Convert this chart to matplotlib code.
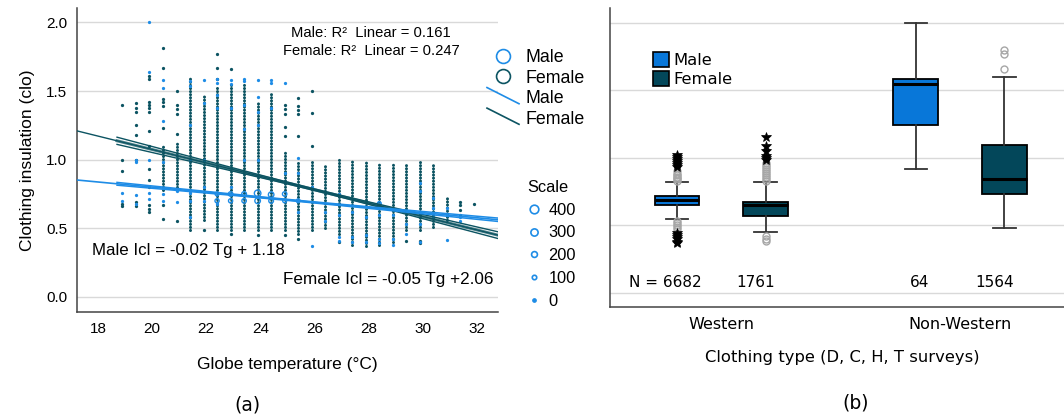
import numpy as np
import matplotlib
matplotlib.use('Agg')
import matplotlib.pyplot as plt
from matplotlib.lines import Line2D
from matplotlib.patches import Patch
from matplotlib.legend_handler import HandlerBase

nan = np.nan

# ---- panel (a): globe temperature bins and clothing values ----
temps = [18.9, 19.4, 19.9, 20.4, 20.9, 21.4, 21.9, 22.4, 22.9, 23.4, 23.9, 24.4, 24.9, 25.4,
         25.9, 26.4, 26.9, 27.4, 27.9, 28.4, 28.9, 29.4, 29.9, 30.4, 30.9, 31.4, 31.9]

# dense runs of female points in each bin (low / high clo)
fem_lo = [nan, nan, nan, 0.78, 0.80, 0.49, 0.56, 0.49, 0.49, 0.49, 0.49, 0.49, 0.49, 0.46,
          0.49, 0.50, 0.46, 0.38, 0.37, 0.38, 0.40, 0.49, 0.49, 0.51, 0.56, nan, nan]
fem_hi = [nan, nan, nan, 1.10, 1.12, 1.61, 1.48, 1.52, 1.56, 1.56, 1.43, 1.49, 1.07, 0.98,
          0.98, 0.97, 1.02, 0.99, 0.99, 0.97, 0.97, 0.97, 1.00, 0.97, 0.72, nan, nan]

# isolated female points
fem_t = [18.9] * 5 + [19.4] * 8 + [19.9] * 14 + [20.4] * 8 + [20.9] * 6 + [21.9] + [22.4] * 3 \
    + [22.9] * 2 + [23.9] + [24.9] * 6 + [25.4] * 6 + [25.9] * 3 + [26.9] + [29.4] + [29.9] * 2 \
    + [31.4] * 4 + [31.9]
fem_c = [1.40, 1.00, 0.92, 0.68, 0.66,
         1.41, 1.38, 1.35, 1.25, 1.18, 1.00, 0.69, 0.66,
         1.61, 1.59, 1.42, 1.40, 1.38, 1.35, 1.21, 1.10, 0.93, 0.85, 0.80, 0.67, 0.64, 0.62,
         1.81, 1.67, 1.44, 1.42, 1.39, 1.23, 0.67, 0.565,
         1.50, 1.40, 1.37, 1.33, 1.19, 0.555,
         0.49,
         1.77, 1.67, 1.59,
         1.66, 0.46,
         0.45,
         1.40, 1.37, 1.33, 1.24, 1.17, 0.45,
         1.45, 1.39, 1.36, 1.33, 1.17, 0.42,
         1.50, 1.34, 1.10,
         0.40,
         0.41,
         0.41, 0.39,
         0.69, 0.67, 0.63, 0.60,
         0.68]

# isolated male points
male_t = [18.9] * 2 + [19.4] * 4 + [19.9] * 5 + [20.4] * 6 + [20.9] * 2 + [21.4] * 7 + [21.9] * 5 \
    + [22.4] * 5 + [22.9] * 4 + [23.4] * 5 + [23.9] * 5 + [24.4] * 3 + [24.9] * 2 + [25.4] * 3 \
    + [25.9] * 2 + [26.4] * 2 + [26.9] * 4 + [27.4] * 3 + [27.9] * 3 + [28.4] * 4 + [28.9] * 3 \
    + [29.4] * 3 + [29.9] * 5 + [30.4] * 3 + [30.9] * 3 + [31.4] * 2
male_c = [0.76, 0.70,
          1.00, 0.98, 0.74, 0.68,
          2.00, 1.64, 1.00, 0.76, 0.71,
          1.58, 1.52, 1.28, 0.98, 0.75, 0.70,
          0.77, 0.695,
          1.57, 1.54, 1.25, 1.00, 0.76, 0.70, 0.58,
          1.58, 1.41, 1.00, 0.80, 0.70,
          1.59, 1.56, 1.47, 1.38, 0.68,
          1.58, 1.55, 1.38, 0.80,
          1.59, 1.57, 1.40, 1.22, 1.00,
          1.58, 1.46, 1.35, 1.25, 1.00,
          1.58, 1.56, 1.38,
          1.56, 0.90,
          1.01, 0.90, 0.62,
          0.80, 0.37,
          0.62, 0.55,
          0.75, 0.60, 0.44, 0.41,
          0.62, 0.44, 0.40,
          0.58, 0.45, 0.40,
          0.68, 0.60, 0.42, 0.39,
          0.60, 0.42, 0.38,
          0.62, 0.53, 0.46,
          0.83, 0.77, 0.62, 0.53, 0.40,
          0.72, 0.65, 0.58,
          0.65, 0.60, 0.415,
          0.58, 0.55]

# male points drawn as count circles
male_n_t = [22.4, 22.4, 22.9, 22.9, 23.4, 23.4, 23.9, 23.9, 24.4, 24.4, 24.9, 24.9, 25.4, 28.4]
male_n_c = [0.75, 0.70, 0.75, 0.70, 0.75, 0.70, 0.755, 0.70, 0.745, 0.70, 0.75, 0.70, 0.70, 0.68]
male_n = [60, 80, 100, 80, 120, 100, 250, 180, 180, 120, 100, 60, 50, 60]

# fitted lines (slope, intercept)
male_fit = (-0.0186, 1.172)
fem_fit = (-0.0488, 2.050)

scale_vals = [400, 300, 200, 100, 0]

# ---- panel (b): box plot summaries ----
groups = ['Western', 'Non-Western']
male_box = [dict(whislo=0.548, q1=0.650, med=0.687, q3=0.719, whishi=0.82),
            dict(whislo=0.919, q1=1.24, med=1.55, q3=1.58, whishi=2.0)]
fem_box = [dict(whislo=0.452, q1=0.570, med=0.652, q3=0.672, whishi=0.82),
           dict(whislo=0.479, q1=0.731, med=0.84, q3=1.092, whishi=1.60)]
male_out = [[0.83, 0.84, 0.85, 0.86, 0.87, 0.88, 0.90, 0.535, 0.52, 0.505, 0.49, 0.475], []]
fem_out = [[0.83, 0.845, 0.86, 0.875, 0.89, 0.905, 0.92, 0.935, 0.95, 0.965, 0.42, 0.40, 0.385],
           [1.66, 1.77, 1.80]]
male_ext = [[0.93, 0.945, 0.96, 0.975, 0.99, 1.005, 1.02, 0.44, 0.425, 0.41, 0.395, 0.38, 0.37], []]
fem_ext = [[0.98, 0.995, 1.01, 1.05, 1.09, 1.155], []]
n_male = [6682, 64]
n_female = [1761, 1564]

MALE = '#1e8ce6'
FEMALE = '#0c5462'
BOX_M = '#0877d9'
BOX_F = '#03475a'
GRID = '#d9d9d9'


class HandlerDiag(HandlerBase):
    def create_artists(self, legend, orig_handle, xdescent, ydescent, width, height, fontsize, trans):
        ln = Line2D([-xdescent, width - xdescent], [height * 1.25 - ydescent, -ydescent - height * 0.05],
                    color=orig_handle.get_color(), lw=orig_handle.get_linewidth(), transform=trans)
        return [ln]


fig = plt.figure(figsize=(10.64, 4.2), dpi=100)

# ================= panel (a) =================
ax = fig.add_axes([77 / 1064, 1 - 312 / 420, (498 - 77) / 1064, (312 - 8) / 420])
SANS = 'Liberation Sans'

ax.set_xlim(17.22, 32.79)
ax.set_ylim(-0.11, 2.105)
ax.set_yticks([0.0, 0.5, 1.0, 1.5, 2.0])
ax.set_xticks([18, 20, 22, 24, 26, 28, 30, 32])
ax.grid(axis='y', color=GRID, lw=1)
ax.set_axisbelow(True)
for s in ['top', 'right']:
    ax.spines[s].set_visible(False)
for s in ['left', 'bottom']:
    ax.spines[s].set_color('#444444')
    ax.spines[s].set_linewidth(1.1)
ax.tick_params(length=0, labelsize=11, pad=7)
for lab in ax.get_xticklabels() + ax.get_yticklabels():
    lab.set_family(SANS)

vl = ax.vlines(temps, fem_lo, fem_hi, colors=FEMALE, linewidth=2.2, linestyles=[(0, (0.01, 1.0))])
vl.set_capstyle('round')
ax.scatter(fem_t, fem_c, s=5.5, color=FEMALE, lw=0, zorder=3)
ax.scatter(male_t, male_c, s=5.5, color=MALE, lw=0, zorder=4)
d_pt = 2.2 + np.array(male_n) * 0.01
ax.scatter(male_n_t, male_n_c, s=d_pt ** 2, facecolors='none', edgecolors=MALE, lw=1.0, zorder=4)

# fitted lines with confidence band
xs = np.linspace(17.22, 32.79, 50)
xb = np.linspace(18.7, 32.79, 50)
fy = fem_fit[0] * xs + fem_fit[1]
ax.plot(xs, fy, color=FEMALE, lw=1.0, zorder=5)
fb = fem_fit[0] * xb + fem_fit[1]
hw = np.sqrt(0.006 ** 2 + (0.0035 * (xb - 26.0)) ** 2)
ax.plot(xb, fb + hw, color=FEMALE, lw=1.0, zorder=5)
ax.plot(xb, fb - hw, color=FEMALE, lw=1.0, zorder=5)
ax.plot(xb, fb, color=FEMALE, lw=2.2, zorder=5, alpha=0.7)

my = male_fit[0] * xs + male_fit[1]
ax.plot(xs, my, color=MALE, lw=1.2, zorder=6)
mb = male_fit[0] * xb + male_fit[1]
hw = np.sqrt(0.004 ** 2 + (0.0015 * (xb - 25.0)) ** 2)
ax.plot(xb, mb + hw, color=MALE, lw=1.1, zorder=6)
ax.plot(xb, mb - hw, color=MALE, lw=1.1, zorder=6)

ax.text(28.1, 1.923, 'Male: R\u00b2  Linear = 0.161', ha='center', va='center', fontsize=10.6, family=SANS)
ax.text(28.1, 1.793, 'Female: R\u00b2  Linear = 0.247', ha='center', va='center', fontsize=10.6, family=SANS)
ax.text(17.79, 0.336, 'Male Icl = -0.02 Tg + 1.18', ha='left', va='center', fontsize=12.2, family=SANS)
ax.text(32.64, 0.127, 'Female Icl = -0.05 Tg +2.06', ha='right', va='center', fontsize=12.3, family=SANS)

ax.set_xlabel('Globe temperature (\u00b0C)', fontsize=12.5, family=SANS, labelpad=15)
ax.set_ylabel('Clothing insulation (clo)', fontsize=12.5, family=SANS, labelpad=8)

# legends for (a)
h1 = [Line2D([], [], ls='none', marker='o', ms=10, mfc='none', mec=MALE, mew=1.2),
      Line2D([], [], ls='none', marker='o', ms=10, mfc='none', mec=FEMALE, mew=1.2),
      Line2D([], [], color=MALE, lw=1.2),
      Line2D([], [], color=FEMALE, lw=1.2)]
hmap = {h1[2]: HandlerDiag(), h1[3]: HandlerDiag()}
leg1 = fig.legend(h1, ['Male', 'Female', 'Male', 'Female'], handler_map=hmap,
                  loc='upper left', bbox_to_anchor=(487 / 1064, 1 - 49 / 420),
                  frameon=False, borderpad=0, borderaxespad=0, handlelength=1.8,
                  handletextpad=0.35, labelspacing=0.2, prop={'family': SANS, 'size': 12.8})

h2 = []
for v in scale_vals:
    d = 2.2 + v * 0.01
    if v == 0:
        h2.append(Line2D([], [], ls='none', marker='o', ms=2.4, mfc=MALE, mec=MALE))
    else:
        h2.append(Line2D([], [], ls='none', marker='o', ms=d, mfc='none', mec=MALE, mew=1.2))
leg2 = fig.legend(h2, [str(v) for v in scale_vals], title='Scale',
                  loc='upper left', bbox_to_anchor=(527 / 1064, 1 - 180 / 420),
                  frameon=False, borderpad=0, borderaxespad=0, handlelength=0.8,
                  handletextpad=0.5, labelspacing=0.47, alignment='left',
                  prop={'family': SANS, 'size': 11.8},
                  title_fontproperties={'family': SANS, 'size': 11.8})

fig.text(247 / 1064, 1 - 405 / 420, '(a)', ha='center', va='center', fontsize=13.5, family='DejaVu Sans')

# ================= panel (b) =================
bx = fig.add_axes([610 / 1064, 1 - 307.3 / 420, (1064 - 610) / 1064 + 0.01, (307.3 - 8) / 420])
bx.set_xlim(-0.466, 1.48)
bx.set_ylim(-0.107, 2.109)
bx.set_yticks([0.0, 0.5, 1.0, 1.5, 2.0])
bx.set_yticklabels([])
bx.grid(axis='y', color=GRID, lw=1)
bx.set_axisbelow(True)
for s in ['top', 'right']:
    bx.spines[s].set_visible(False)
for s in ['left', 'bottom']:
    bx.spines[s].set_color('#444444')
    bx.spines[s].set_linewidth(1.1)
bx.tick_params(length=0, labelsize=11.5, pad=7)

pos = np.arange(len(groups))
off = 0.1855
wd = 0.188
for boxes, outs, exts, shift, col in [(male_box, male_out, male_ext, -off, BOX_M),
                                      (fem_box, fem_out, fem_ext, off, BOX_F)]:
    stats = []
    for b in boxes:
        st = dict(b)
        st['fliers'] = []
        stats.append(st)
    bx.bxp(stats, positions=pos + shift, widths=wd, patch_artist=True, showfliers=False,
           boxprops=dict(facecolor=col, edgecolor='black', linewidth=1.3),
           medianprops=dict(color='black', linewidth=2.2),
           whiskerprops=dict(color='#333333', linewidth=1.3),
           capprops=dict(color='#333333', linewidth=1.3), capwidths=wd / 2)
    for i in range(len(groups)):
        if outs[i]:
            bx.plot([pos[i] + shift] * len(outs[i]), outs[i], ls='none', marker='o', ms=5,
                    mfc='none', mec='#a6a6a6', mew=1.0, zorder=4)
        if exts[i]:
            bx.plot([pos[i] + shift] * len(exts[i]), exts[i], ls='none', marker='*', ms=7,
                    mfc='black', mec='black', mew=0.5, zorder=4)

for i in range(len(groups)):
    lab = 'N = %d' % n_male[i] if i == 0 else str(n_male[i])
    bx.text(pos[i] - off - (0.047 if i == 0 else -0.015), 0.08, lab, ha='center', va='center',
            fontsize=11, family='DejaVu Sans')
    bx.text(pos[i] + off - 0.04, 0.08, str(n_female[i]), ha='center', va='center',
            fontsize=11, family='DejaVu Sans')

bx.set_xticks(pos)
bx.set_xticklabels(groups, family='DejaVu Sans')
bx.set_xlabel('Clothing type (D, C, H, T surveys)', fontsize=11.8, family='DejaVu Sans', labelpad=13)

fig.legend([Patch(facecolor=BOX_M, edgecolor='black', lw=1.2), Patch(facecolor=BOX_F, edgecolor='black', lw=1.2)],
           ['Male', 'Female'], loc='upper left', bbox_to_anchor=(653 / 1064, 1 - 52 / 420),
           frameon=False, borderpad=0, borderaxespad=0, handlelength=1.0, handleheight=1.0,
           handletextpad=0.25, labelspacing=0.2, prop={'family': 'DejaVu Sans', 'size': 11.8})

fig.text(856 / 1064, 1 - 403 / 420, '(b)', ha='center', va='center', fontsize=13.5, family='DejaVu Sans')

fig.savefig('out.png', dpi=100)
